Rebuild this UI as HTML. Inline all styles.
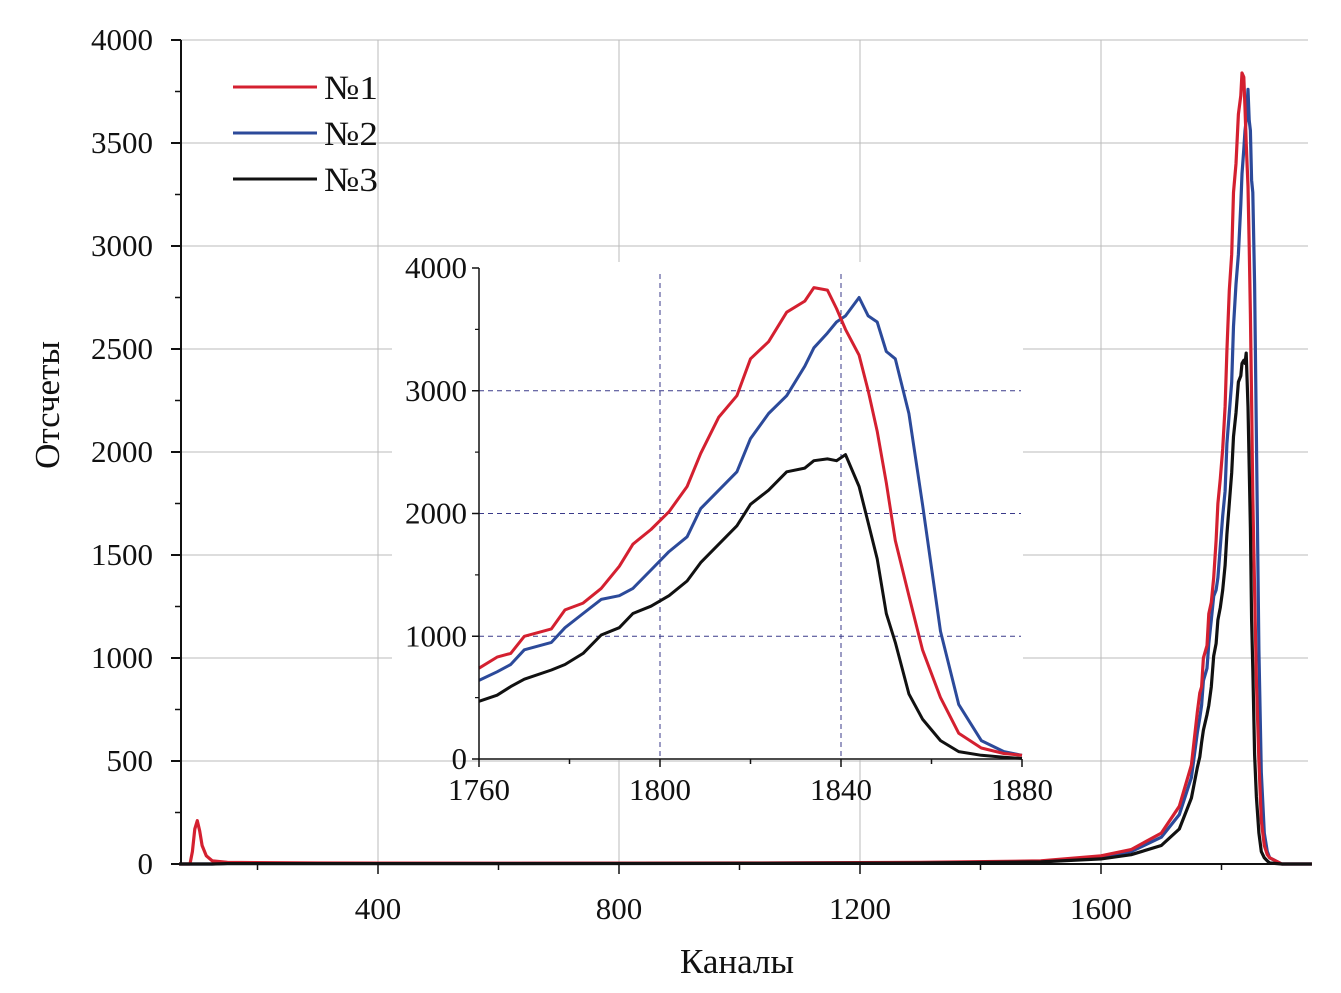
<!DOCTYPE html>
<html><head><meta charset="utf-8"><style>
html,body{margin:0;padding:0;background:#fff;}
svg{display:block;font-family:"Liberation Serif",serif;}
</style></head><body>
<svg id="chart" width="1341" height="993"></svg>
<script>
const insetChannels=[1760,1764,1767,1770,1776,1779,1783,1787,1791,1794,1798,1802,1806,1809,1813,1817,1820,1824,1828,1832,1834,1837,1839,1841,1844,1846,1848,1850,1852,1855,1858,1862,1866,1871,1876,1880];
const insetRed=[740,830,860,1000,1060,1215,1270,1390,1570,1750,1870,2015,2220,2490,2785,2960,3260,3400,3640,3730,3840,3820,3670,3500,3290,3000,2670,2250,1780,1330,890,500,210,90,45,30];
const insetBlue=[640,710,770,890,950,1070,1185,1300,1330,1390,1540,1690,1810,2040,2190,2340,2610,2815,2960,3200,3350,3470,3560,3610,3760,3610,3560,3320,3260,2815,2075,1040,445,150,60,30];
const insetBlack=[470,520,590,650,725,770,860,1010,1070,1185,1245,1330,1450,1600,1750,1900,2075,2190,2340,2370,2430,2445,2430,2480,2220,1925,1630,1185,950,530,325,150,60,30,15,5];
const lowChannels=[70,88,92,96,100,104,108,115,125,150,300,600,1000,1300,1500,1600,1650,1700,1730,1750];
const lowRed=[0,0,60,170,210,160,90,40,15,8,5,4,5,8,15,40,70,150,280,480];
const lowBlue=[0,0,0,0,0,0,0,0,0,3,3,3,4,6,12,35,60,130,240,420];
const lowBlack=[0,0,0,0,0,0,0,0,0,2,2,2,3,5,10,25,45,90,170,320];
const tailChannels=[1900,1950];
const tailValues=[0,0];
const mainXTicks=[400,800,1200,1600];
const mainYTicks=[0,500,1000,1500,2000,2500,3000,3500,4000];
const insetXTicks=[1760,1800,1840,1880];
const insetYTicks=[0,1000,2000,3000,4000];
const seriesNames=["№1","№2","№3"];
const seriesColors=["#d42030","#2c4a9a","#111111"];

const NS="http://www.w3.org/2000/svg";
const svg=document.getElementById('chart');
function mk(tag,attrs,parent){const e=document.createElementNS(NS,tag);for(const k in attrs)e.setAttribute(k,attrs[k]);(parent||svg).appendChild(e);return e;}

const mx=v=>137+v*0.60250;
const my=v=>864-v*0.20600;
const L=181,R=1308,T=40,B=864;
const grid=mk('g',{});


mainXTicks.forEach(t=>{mk('line',{x1:mx(t),x2:mx(t),y1:T,y2:B,stroke:'#bbb','stroke-width':1},grid);});
mainYTicks.forEach(t=>{if(t>0)mk('line',{x1:L,x2:R,y1:my(t),y2:my(t),stroke:'#bbb','stroke-width':1},grid);});

const allCh=lowChannels.concat(insetChannels,tailChannels);
const mainSeries=[lowRed.concat(insetRed,tailValues),lowBlue.concat(insetBlue,tailValues),lowBlack.concat(insetBlack,tailValues)];
const mainG=mk('g',{});


[1,0,2].forEach(i=>{
  const d=allCh.map((c,j)=>(j?'L':'M')+mx(c).toFixed(1)+','+my(mainSeries[i][j]).toFixed(1)).join('');
  const p=mk('path',{d:d,fill:'none',stroke:seriesColors[i],'stroke-width':3.2,'stroke-linejoin':'round'},mainG);
  
  
});

const ax=mk('g',{});


mk('line',{x1:L,x2:L,y1:T,y2:B+1,stroke:'#111','stroke-width':2},ax);
mk('line',{x1:L,x2:R,y1:B,y2:B,stroke:'#111','stroke-width':2},ax);
mainYTicks.forEach(t=>{
  mk('line',{x1:L-10,x2:L,y1:my(t),y2:my(t),stroke:'#111','stroke-width':2},ax);
  if(t<4000)mk('line',{x1:L-6,x2:L,y1:my(t+250),y2:my(t+250),stroke:'#111','stroke-width':1.5},ax);
  const tx=mk('text',{x:153,y:my(t)+10,'text-anchor':'end','font-size':31,fill:'#111'},ax);tx.textContent=t;
  
  
});
[200,400,600,800,1000,1200,1400,1600,1800].forEach(t=>{
  mk('line',{x1:mx(t),x2:mx(t),y1:B,y2:B+(t%400===0?10:6),stroke:'#111','stroke-width':1.5},ax);
});
mainXTicks.forEach(t=>{
  const tx=mk('text',{x:mx(t),y:919,'text-anchor':'middle','font-size':31,fill:'#111'},ax);tx.textContent=t;
  
  
});
const xt=mk('text',{x:737,y:973,'text-anchor':'middle','font-size':35,fill:'#111'});xt.textContent='Каналы';


const yt=mk('text',{x:0,y:0,'text-anchor':'middle','font-size':35,fill:'#111',transform:'translate(59,405) rotate(-90)'});yt.textContent='Отсчеты';



seriesNames.forEach((n,i)=>{
  const g=mk('g',{});
  
  
  const y=87+i*46;
  mk('line',{x1:233,x2:317,y1:y,y2:y,stroke:seriesColors[i],'stroke-width':3},g);
  const t=mk('text',{x:324,y:y+12,'font-size':34,fill:'#111',textLength:54,lengthAdjust:'spacingAndGlyphs'},g);t.textContent=n;
});

const ix=v=>479+(v-1760)*(543/120);
const iy=v=>759-v*0.12275;
const ins=mk('g',{});


mk('rect',{x:392,y:262,width:631,height:498,fill:'#fff'},ins);
[1800,1840].forEach(t=>mk('line',{x1:ix(t),x2:ix(t),y1:274,y2:759,stroke:'#3a3a8a','stroke-width':1,'stroke-dasharray':'5,4'},ins));
[1000,2000,3000].forEach(t=>mk('line',{x1:479,x2:1021,y1:iy(t),y2:iy(t),stroke:'#3a3a8a','stroke-width':1,'stroke-dasharray':'5,4'},ins));
const insetSeries=[insetRed,insetBlue,insetBlack];
[2,1,0].forEach(i=>{
  const d=insetChannels.map((c,j)=>(j?'L':'M')+ix(c).toFixed(1)+','+iy(insetSeries[i][j]).toFixed(1)).join('');
  const p=mk('path',{d:d,fill:'none',stroke:seriesColors[i],'stroke-width':3,'stroke-linejoin':'round'},ins);
  
  
});
mk('line',{x1:479,x2:479,y1:268,y2:760,stroke:'#111','stroke-width':1.5},ins);
mk('line',{x1:478,x2:1022,y1:759,y2:759,stroke:'#111','stroke-width':1.5},ins);
insetYTicks.forEach(t=>{
  mk('line',{x1:472,x2:479,y1:iy(t),y2:iy(t),stroke:'#111','stroke-width':1.5},ins);
  if(t<4000)mk('line',{x1:475,x2:479,y1:iy(t+500),y2:iy(t+500),stroke:'#111','stroke-width':1.2},ins);
  const tx=mk('text',{x:467,y:iy(t)+10,'text-anchor':'end','font-size':31,fill:'#111'},ins);tx.textContent=t;
  
  
});
[1760,1780,1800,1820,1840,1860,1880].forEach(t=>mk('line',{x1:ix(t),x2:ix(t),y1:759,y2:759+(t%40===0?8:5),stroke:'#111','stroke-width':1.5},ins));
insetXTicks.forEach(t=>{
  const tx=mk('text',{x:ix(t),y:800,'text-anchor':'middle','font-size':31,fill:'#111'},ins);tx.textContent=t;
  
  
});
</script>
</body></html>
